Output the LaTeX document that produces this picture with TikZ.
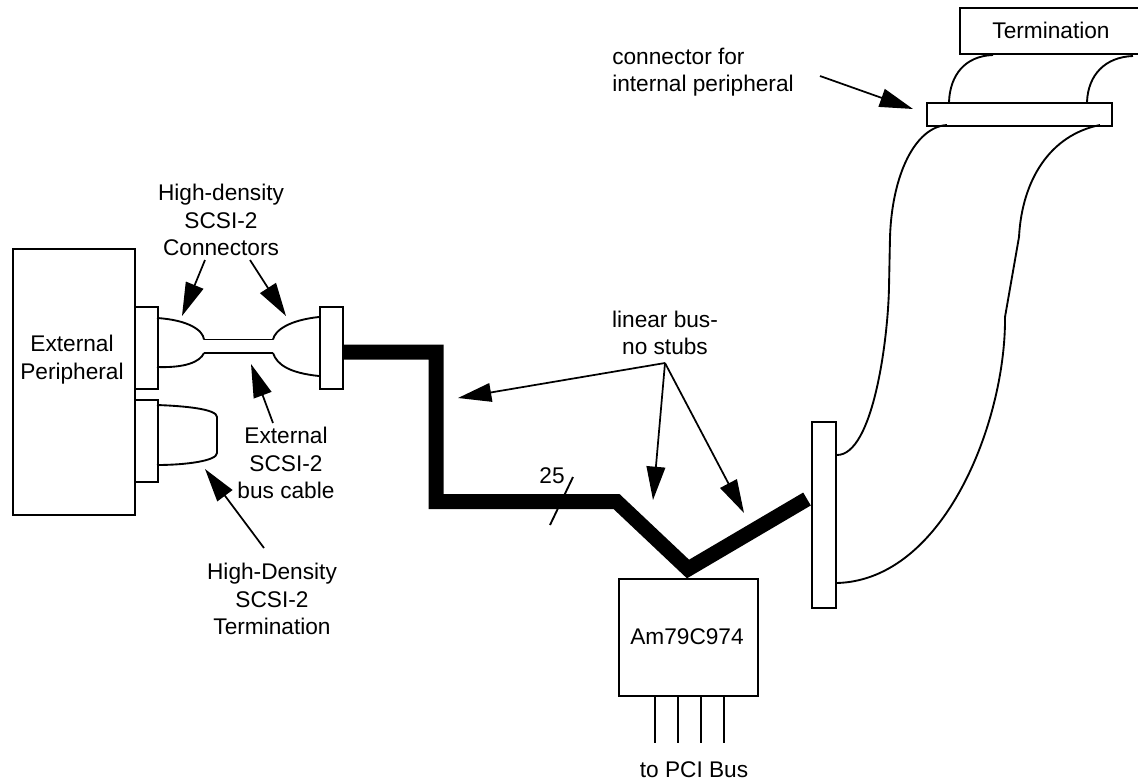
\documentclass[tikz,border=0pt]{standalone}
\usepackage{fontspec}
\setmainfont{Liberation Sans}
\usetikzlibrary{arrows.meta}
\tikzset{
 x=0.75pt,y=-0.75pt,
 boxn/.style={draw,line width=1.5pt,fill=white,inner sep=0pt,anchor=north west},
 lbl/.style={align=center,font=\fontsize{17}{20.6}\selectfont,inner sep=0pt},
 wire/.style={line width=1.4pt},
 bus/.style={line width=11.25pt,miter limit=10},
 pointer/.style={line width=1.3pt,-{Triangle[length=25pt,width=14pt]}}
}
\begin{document}
\begin{tikzpicture}
\useasboundingbox (0,0) rectangle (1138,782);
% bus
\coordinate (p0) at (342,352); \coordinate (p1) at (436,352); \coordinate (p2) at (436,501.5);
\coordinate (p3) at (616.5,501.5); \coordinate (p4) at (688,569); \coordinate (p5) at (807,499);
\draw[bus] (p0)--(p1)--(p2)--(p3)--(p4)--(p5);
% boxes
\node[boxn,minimum width=91.5pt,minimum height=199.5pt] (ext) at (12,248) {};
\node[lbl] (extl) at (72,359.5) {External\\Peripheral};
\node[boxn,minimum width=17pt,minimum height=61.5pt] (c1) at (134,306) {};
\node[boxn,minimum width=17pt,minimum height=61.5pt] (c2) at (134,399) {};
\node[boxn,minimum width=17pt,minimum height=61.5pt] (c3) at (319,306) {};
\node[boxn,minimum width=104pt,minimum height=88pt] (chip) at (618,578) {};
\node[lbl] (chipl) at (687,637) {Am79C974};
\node[boxn,minimum width=18pt,minimum height=139.5pt] (c4) at (811,421) {};
\node[boxn,minimum width=139pt,minimum height=17pt] (c5) at (926,102) {};
\node[boxn,minimum width=136pt,minimum height=34.5pt] (term) at (959,7) {};
\node[lbl] (terml) at (1051,30) {Termination};
% cable
\coordinate (a1) at (204,339.5); \coordinate (a2) at (273,339.5);
\coordinate (b1) at (204,353); \coordinate (b2) at (273,353);
\draw[wire] (a1)--(a2) (b1)--(b2);
\draw[wire] (157,318) .. controls (188,320) and (203,330) .. (a1);
\draw[wire] (157,367) .. controls (185,368) and (200,362) .. (b1);
\draw[wire] (319,317) .. controls (290,320) and (275,330) .. (a2);
\draw[wire] (319,376) .. controls (290,373) and (277,365) .. (b2);
% termination plug
\draw[wire] (157,405) .. controls (185,406) and (217,409) .. (217,417) -- (217,453) .. controls (217,461) and (185,465) .. (157,465);
% tick
\coordinate (t1) at (573,477); \coordinate (t2) at (550,525);
\draw[wire] (t1)--(t2);
\node[lbl] (n25) at (552,476) {25};
% flat cable
\draw[wire] (837,455) .. controls (873,455) and (888,340) .. (889,287) -- (890,237) .. controls (892,175) and (915,127) .. (947,125);
\draw[wire] (837,583) .. controls (945,580) and (1006,420) .. (1005,317) -- (1019,237) .. controls (1022,180) and (1050,135) .. (1100,125);
\draw[wire] (949,102) .. controls (950,75) and (965,56) .. (993,55);
\draw[wire] (1087,102) .. controls (1088,75) and (1105,57) .. (1133,56);
% pins
\foreach \i/\px in {a/655,b/678,c/701,d/724}{
 \coordinate (pin\i) at (\px,695); \coordinate (pe\i) at (\px,743);
 \draw[wire] (pin\i)--(pe\i);
}
\node[lbl] (pci) at (694,770) {to PCI Bus};
% labels & arrows
\node[lbl] (hd) at (221,220) {High-density\\SCSI-2\\Connectors};
\coordinate (h0) at (205,260); \coordinate (h1) at (182,316);
\coordinate (h2) at (250,260); \coordinate (h3) at (286,316);
\draw[pointer] (h0)--(h1);
\draw[pointer] (h2)--(h3);
\node[lbl] (cbl) at (286,463) {External\\SCSI-2\\bus cable};
\coordinate (e0) at (273,423); \coordinate (e1) at (251,364);
\draw[pointer] (e0)--(e1);
\node[lbl] (hdt) at (272,599) {High-Density\\SCSI-2\\Termination};
\coordinate (f0) at (264,548); \coordinate (f1) at (205,469);
\draw[pointer] (f0)--(f1);
\node[lbl] (lin) at (665,333) {linear bus-\\no stubs};
\coordinate (l0) at (665,363); \coordinate (l1) at (458,398);
\coordinate (l2) at (653,500); \coordinate (l3) at (744,513);
\draw[pointer] (l0)--(l1);
\draw[pointer] (l0)--(l2);
\draw[pointer] (l0)--(l3);
\node[lbl,align=left,anchor=west] (ci) at (612,72) {connector for\\internal peripheral};
\coordinate (i0) at (820,76); \coordinate (i1) at (913,109);
\draw[pointer] (i0)--(i1);
\end{tikzpicture}
\end{document}
